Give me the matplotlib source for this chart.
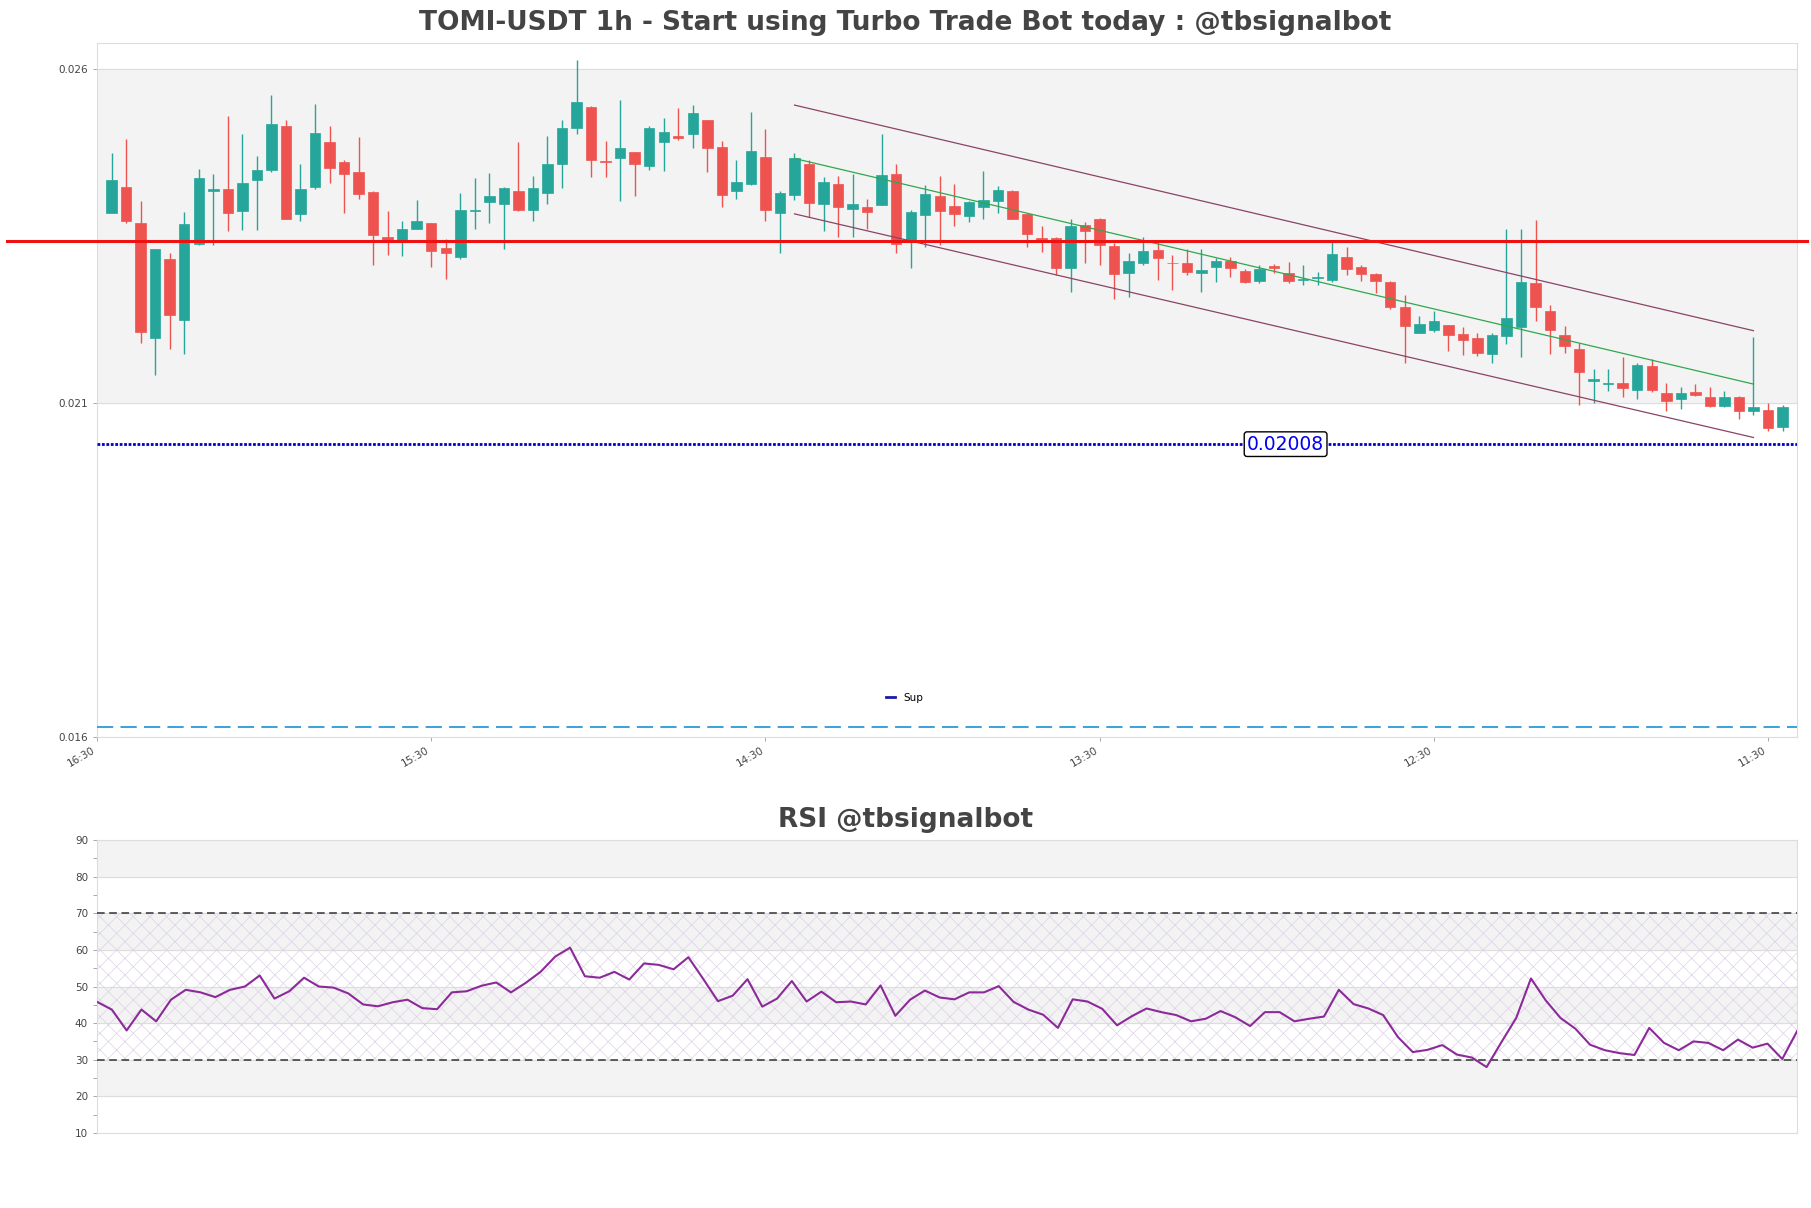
import numpy as np
import matplotlib
matplotlib.use("Agg")
import matplotlib.pyplot as plt
from matplotlib.lines import Line2D
from matplotlib.ticker import MultipleLocator

# ── 1. Data ───────────────────────────────────────────────────────────────────
opens = [
    0.02385, 0.02423, 0.02370, 0.02197, 0.02315, 0.02224, 0.02338, 0.02417, 0.02420, 0.02388,
    0.02434, 0.02448, 0.02514, 0.02383, 0.02424, 0.02490, 0.02460, 0.02445, 0.02416, 0.02348,
    0.02342, 0.02361, 0.02369, 0.02332, 0.02319, 0.02387, 0.02401, 0.02398, 0.02417, 0.02389,
    0.02415, 0.02458, 0.02511, 0.02543, 0.02462, 0.02466, 0.02475, 0.02454, 0.02490, 0.02500,
    0.02503, 0.02523, 0.02483, 0.02418, 0.02428, 0.02468, 0.02385, 0.02411, 0.02458, 0.02398,
    0.02428, 0.02391, 0.02393, 0.02397, 0.02443, 0.02341, 0.02382, 0.02410, 0.02395, 0.02380,
    0.02394, 0.02403, 0.02418, 0.02383, 0.02347, 0.02347, 0.02302, 0.02366, 0.02376, 0.02335,
    0.02294, 0.02310, 0.02329, 0.02310, 0.02310, 0.02294, 0.02304, 0.02312, 0.02297, 0.02283,
    0.02305, 0.02294, 0.02284, 0.02287, 0.02284, 0.02318, 0.02303, 0.02293, 0.02281, 0.02243,
    0.02205, 0.02209, 0.02216, 0.02203, 0.02197, 0.02173, 0.02200, 0.02214, 0.02279, 0.02237,
    0.02202, 0.02180, 0.02132, 0.02128, 0.02129, 0.02119, 0.02155, 0.02114, 0.02106, 0.02116,
    0.02108, 0.02095, 0.02108, 0.02087, 0.02089, 0.02063,
]
highs = [
    0.02474, 0.02495, 0.02403, 0.02331, 0.02325, 0.02386, 0.02450, 0.02443, 0.02530, 0.02502,
    0.02469, 0.02561, 0.02523, 0.02457, 0.02548, 0.02514, 0.02463, 0.02498, 0.02417, 0.02388,
    0.02372, 0.02404, 0.02370, 0.02345, 0.02415, 0.02437, 0.02444, 0.02423, 0.02490, 0.02440,
    0.02500, 0.02524, 0.02613, 0.02544, 0.02492, 0.02554, 0.02476, 0.02515, 0.02527, 0.02542,
    0.02546, 0.02524, 0.02492, 0.02464, 0.02535, 0.02510, 0.02417, 0.02474, 0.02463, 0.02438,
    0.02440, 0.02443, 0.02406, 0.02502, 0.02457, 0.02389, 0.02427, 0.02440, 0.02428, 0.02402,
    0.02447, 0.02425, 0.02419, 0.02385, 0.02365, 0.02348, 0.02376, 0.02371, 0.02377, 0.02340,
    0.02325, 0.02349, 0.02342, 0.02321, 0.02331, 0.02330, 0.02317, 0.02319, 0.02301, 0.02306,
    0.02308, 0.02311, 0.02306, 0.02296, 0.02341, 0.02333, 0.02307, 0.02294, 0.02282, 0.02261,
    0.02230, 0.02237, 0.02217, 0.02213, 0.02204, 0.02205, 0.02360, 0.02360, 0.02374, 0.02246,
    0.02215, 0.02189, 0.02151, 0.02151, 0.02168, 0.02159, 0.02165, 0.02130, 0.02123, 0.02128,
    0.02123, 0.02117, 0.02110, 0.02198, 0.02099, 0.02097,
]
lows = [
    0.02384, 0.02369, 0.02190, 0.02141, 0.02180, 0.02173, 0.02337, 0.02336, 0.02357, 0.02359,
    0.02359, 0.02446, 0.02375, 0.02372, 0.02421, 0.02429, 0.02384, 0.02406, 0.02306, 0.02321,
    0.02320, 0.02360, 0.02304, 0.02285, 0.02316, 0.02360, 0.02370, 0.02330, 0.02388, 0.02373,
    0.02398, 0.02422, 0.02503, 0.02439, 0.02439, 0.02403, 0.02410, 0.02448, 0.02447, 0.02493,
    0.02481, 0.02446, 0.02394, 0.02406, 0.02427, 0.02373, 0.02325, 0.02404, 0.02379, 0.02358,
    0.02349, 0.02349, 0.02360, 0.02396, 0.02325, 0.02302, 0.02334, 0.02336, 0.02365, 0.02371,
    0.02375, 0.02385, 0.02375, 0.02334, 0.02326, 0.02292, 0.02266, 0.02310, 0.02307, 0.02255,
    0.02258, 0.02306, 0.02284, 0.02269, 0.02292, 0.02266, 0.02281, 0.02289, 0.02279, 0.02279,
    0.02294, 0.02280, 0.02277, 0.02277, 0.02281, 0.02292, 0.02282, 0.02264, 0.02240, 0.02160,
    0.02204, 0.02206, 0.02177, 0.02172, 0.02170, 0.02159, 0.02188, 0.02169, 0.02223, 0.02173,
    0.02174, 0.02097, 0.02100, 0.02117, 0.02108, 0.02105, 0.02116, 0.02087, 0.02091, 0.02110,
    0.02093, 0.02094, 0.02075, 0.02081, 0.02057, 0.02057,
]
closes = [
    0.02434, 0.02373, 0.02206, 0.02330, 0.02231, 0.02368, 0.02437, 0.02420, 0.02385, 0.02429,
    0.02448, 0.02517, 0.02376, 0.02420, 0.02504, 0.02452, 0.02442, 0.02413, 0.02352, 0.02343,
    0.02360, 0.02372, 0.02328, 0.02325, 0.02389, 0.02389, 0.02410, 0.02422, 0.02389, 0.02422,
    0.02458, 0.02512, 0.02550, 0.02463, 0.02460, 0.02482, 0.02457, 0.02512, 0.02506, 0.02496,
    0.02534, 0.02482, 0.02412, 0.02431, 0.02477, 0.02389, 0.02414, 0.02467, 0.02400, 0.02431,
    0.02394, 0.02398, 0.02386, 0.02441, 0.02338, 0.02386, 0.02413, 0.02388, 0.02383, 0.02401,
    0.02404, 0.02419, 0.02376, 0.02353, 0.02344, 0.02302, 0.02365, 0.02358, 0.02337, 0.02293,
    0.02312, 0.02327, 0.02317, 0.02309, 0.02296, 0.02299, 0.02312, 0.02302, 0.02281, 0.02301,
    0.02302, 0.02283, 0.02286, 0.02289, 0.02323, 0.02301, 0.02293, 0.02283, 0.02244, 0.02215,
    0.02218, 0.02222, 0.02202, 0.02194, 0.02175, 0.02201, 0.02227, 0.02281, 0.02244, 0.02209,
    0.02185, 0.02146, 0.02135, 0.02130, 0.02122, 0.02156, 0.02119, 0.02103, 0.02114, 0.02111,
    0.02095, 0.02108, 0.02087, 0.02093, 0.02062, 0.02093,
]
rsi = [
    45.8, 43.7, 38.0, 43.7, 40.5, 46.4, 49.1, 48.4, 47.1, 49.1,
    50.0, 53.0, 46.7, 48.7, 52.4, 50.0, 49.7, 48.1, 45.1, 44.6,
    45.7, 46.4, 44.1, 43.8, 48.4, 48.7, 50.2, 51.1, 48.4, 51.0,
    54.0, 58.2, 60.6, 52.8, 52.4, 54.0, 51.9, 56.3, 55.9, 54.7,
    58.0, 52.1, 46.0, 47.5, 52.0, 44.5, 46.7, 51.5, 45.9, 48.6,
    45.7, 45.9, 45.1, 50.3, 42.0, 46.4, 48.9, 47.0, 46.5, 48.4,
    48.4, 50.1, 45.8, 43.7, 42.3, 38.7, 46.5, 45.9, 43.9, 39.4,
    41.9, 44.0, 43.0, 42.2, 40.5, 41.2, 43.3, 41.6, 39.2, 43.0,
    43.0, 40.5, 41.2, 41.8, 49.1, 45.2, 44.0, 42.2, 36.2, 32.1,
    32.7, 34.0, 31.4, 30.6, 28.0, 34.8, 41.4, 52.2, 46.2, 41.4,
    38.5, 34.1, 32.6, 31.8, 31.3, 38.7, 34.6, 32.6, 35.0, 34.6,
    32.6, 35.5, 33.3, 34.4, 30.2, 37.8,
]

tick_pos    = [-1, 22, 45, 68, 91, 114]
tick_labels = ["16:30", "15:30", "14:30", "13:30", "12:30", "11:30"]

# regression channel (start / end candle)
chan_x     = [47, 113]
chan_upper = [0.02546, 0.02208]
chan_mid   = [0.02466, 0.02128]
chan_lower = [0.02383, 0.02048]

red_level = 0.02342
sup_level = 0.02038
sup_text  = "0.02008"
low_level = 0.01615

TITLE     = "TOMI-USDT 1h - Start using Turbo Trade Bot today : @tbsignalbot"
RSI_TITLE = "RSI @tbsignalbot"

UP, DOWN = "#26a69a", "#ef5350"
BAND     = "#f3f3f3"
GRID     = "#dddddd"
TXT      = "#444444"

# ── 2. Figure ─────────────────────────────────────────────────────────────────
fig = plt.figure(figsize=(18.11, 12.08), dpi=100)
ax  = fig.add_axes([0.0536, 0.3903, 0.9387, 0.5741])
ax2 = fig.add_axes([0.0536, 0.0621, 0.9387, 0.2425])

for a in (ax, ax2):
    for s in a.spines.values():
        s.set_color(GRID)
    a.tick_params(labelsize=7.5, colors=TXT, length=3, width=0.6)
    a.tick_params(axis="both", color="#999999")

# ── 3. Candles ────────────────────────────────────────────────────────────────
o = np.array(opens); h = np.array(highs); l = np.array(lows); c = np.array(closes)
x = np.arange(len(o))
cols = np.where(c >= o, UP, DOWN)

ax.axhspan(0.021, 0.026, color=BAND, zorder=0)
ax.vlines(x, l, h, colors=cols, lw=1, zorder=2)
body = np.maximum(np.abs(c - o), 0.00001)
ax.bar(x, body, bottom=np.minimum(o, c), width=0.72, color=cols,
       edgecolor=cols, linewidth=0.5, zorder=3)

# channel
ax.plot(chan_x, chan_upper, color="#8a4466", lw=0.9, zorder=4)
ax.plot(chan_x, chan_lower, color="#8a4466", lw=0.9, zorder=4)
ax.plot(chan_x, chan_mid, color="#2fa84f", lw=0.9, zorder=4)

# levels
ax.axhline(red_level, xmin=-0.053, xmax=1.006, color="#ee1111", lw=2.2,
           clip_on=False, zorder=5)
ax.axhline(sup_level, color="#0000cc", lw=2, ls=(0, (1, 0.6)), zorder=5)
ax.axhline(low_level, color="#2a9bd8", lw=1.3, ls=(0, (9, 4)), zorder=5)
ax.text(80.8, sup_level, sup_text, color="#0000ee", fontsize=13.5,
        ha="center", va="center", zorder=6,
        bbox=dict(boxstyle="round,pad=0.15", fc="white", ec="black", lw=1))

ax.set_xlim(-1, 116)
ax.set_ylim(0.0160, 0.02639)
ax.set_yticks([0.016, 0.021, 0.026])
ax.set_yticklabels(["0.016", "0.021", "0.026"])
ax.set_xticks(tick_pos)
ax.set_xticklabels(tick_labels, rotation=30, ha="right")
ax.grid(axis="y", color=GRID, lw=0.8)
ax.set_axisbelow(True)

ax.legend(handles=[Line2D([], [], color="#1a1aaa", lw=2)], labels=["Sup"],
          loc="center", bbox_to_anchor=(0.475, 0.056), frameon=False,
          fontsize=7.5, handlelength=0.9)

fig.text(0.5, 0.981, TITLE, ha="center", va="center", fontsize=19,
         fontweight="bold", color=TXT)

# ── 4. RSI ────────────────────────────────────────────────────────────────────
plt.rcParams["hatch.linewidth"] = 0.5
for lo in (80, 60, 40, 20):
    ax2.axhspan(lo, lo + 10, color=BAND, zorder=0)
ax2.axhspan(30, 70, facecolor="none", edgecolor="#ddd2e6", hatch="xx",
            lw=0, zorder=1)
ax2.axhline(70, color="#333333", lw=1.1, ls=(0, (5, 3)), zorder=3)
ax2.axhline(30, color="#333333", lw=1.1, ls=(0, (5, 3)), zorder=3)
ax2.plot(np.arange(len(rsi)), rsi, color="#8b2a98", lw=1.5, zorder=4)

ax2.set_xlim(0, len(rsi) - 1)
ax2.set_ylim(10, 90)
ax2.set_yticks(range(10, 91, 10))
ax2.yaxis.set_minor_locator(MultipleLocator(5))
ax2.tick_params(axis="y", which="minor", length=3, color="#999999")
ax2.set_xticks([])
ax2.grid(axis="y", color=GRID, lw=0.8)
ax2.set_axisbelow(True)

fig.text(0.5, 0.321, RSI_TITLE, ha="center", va="center", fontsize=19,
         fontweight="bold", color=TXT)

plt.savefig("out.png", dpi=100)
print("saved out.png")
